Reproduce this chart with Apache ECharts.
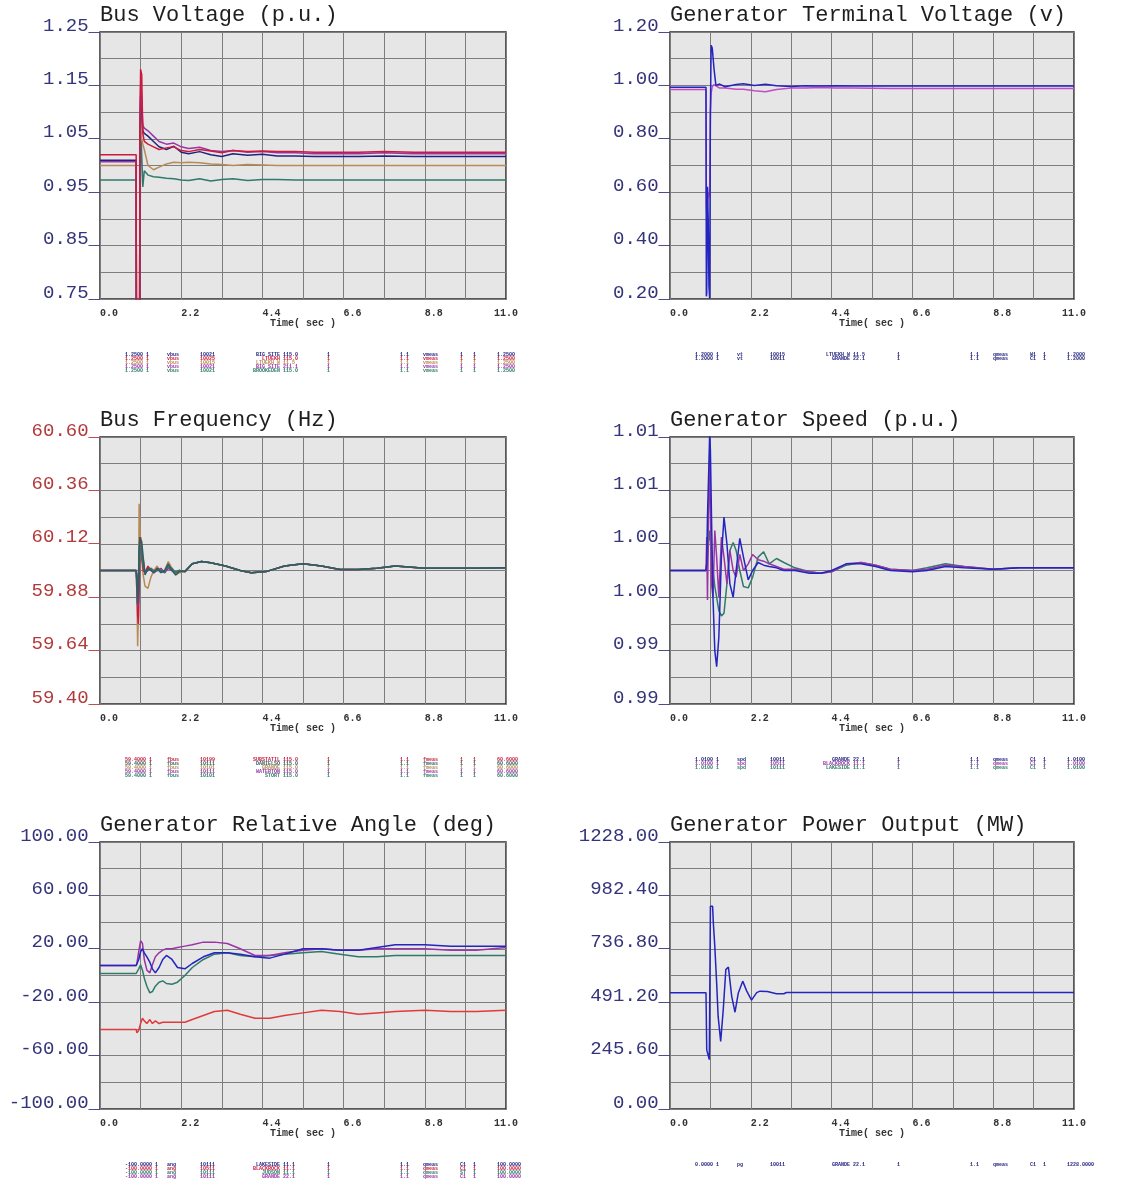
<!DOCTYPE html>
<html>
<head>
<meta charset="utf-8">
<script src="https://cdn.jsdelivr.net/npm/echarts@6/dist/echarts.min.js"></script>
<style>html,body{margin:0;padding:0;background:#fff;}#c{width:1132px;height:1195px;}</style>
</head>
<body>
<div id="c"></div>
<script>
// ---------- shared x axis ----------
const xTickValues = [0, 2.2, 4.4, 6.6, 8.8, 11];
const xTickLabels = ['0.0', '2.2', '4.4', '6.6', '8.8', '11.0'];

// ---------- Panel 1: Bus Voltage (p.u.) ----------
const bvT      = [0, 0.98, 0.99, 1.07, 1.08, 1.1, 1.13, 1.16, 1.2, 1.3, 1.45, 1.6, 1.8, 2.0, 2.2, 2.4, 2.7, 3.0, 3.3, 3.6, 4.0, 4.4, 4.8, 5.3, 5.8, 6.4, 7.0, 7.7, 8.5, 9.5, 11.0];
const bvNavy   = [1.010, 1.010, 0.5, 0.5, 1.05, 1.13, 1.10, 1.065, 1.06, 1.055, 1.045, 1.035, 1.03, 1.036, 1.025, 1.022, 1.026, 1.02, 1.017, 1.022, 1.019, 1.021, 1.018, 1.018, 1.017, 1.017, 1.017, 1.018, 1.017, 1.017, 1.017];
const bvRed    = [1.020, 1.020, 0.5, 0.5, 1.06, 1.18, 1.17, 1.06, 1.045, 1.04, 1.035, 1.03, 1.033, 1.035, 1.028, 1.026, 1.03, 1.027, 1.024, 1.028, 1.026, 1.027, 1.026, 1.026, 1.025, 1.025, 1.025, 1.026, 1.025, 1.025, 1.025];
const bvTan    = [1.000, 1.000, 0.5, 0.5, 0.98, 1.12, 1.05, 1.04, 1.03, 1.0, 0.992, 0.997, 1.003, 1.006, 1.005, 1.006, 1.005, 1.003, 1.002, 1.0, 1.002, 1.001, 1.0, 1.0, 1.0, 1.0, 1.0, 1.0, 1.0, 1.0, 1.0];
const bvPurple = [1.007, 1.007, 0.5, 0.5, 1.04, 1.15, 1.12, 1.075, 1.07, 1.065, 1.055, 1.045, 1.04, 1.042, 1.035, 1.032, 1.034, 1.028, 1.026, 1.028, 1.025, 1.026, 1.024, 1.024, 1.022, 1.022, 1.022, 1.024, 1.022, 1.022, 1.022];
const bvTeal   = [0.973, 0.973, 0.5, 0.5, 0.7, 1.10, 1.02, 0.96, 0.99, 0.982, 0.979, 0.978, 0.976, 0.975, 0.973, 0.972, 0.975, 0.971, 0.974, 0.975, 0.972, 0.974, 0.974, 0.973, 0.973, 0.973, 0.973, 0.973, 0.973, 0.973, 0.973];
const bvYTicks  = [0.75, 0.85, 0.95, 1.05, 1.15, 1.25];
const bvYLabels = ['0.75', '0.85', '0.95', '1.05', '1.15', '1.25'];

// ---------- Panel 2: Generator Terminal Voltage (v) ----------
const gtT       = [0, 0.98, 0.99, 1.0, 1.02, 1.04, 1.06, 1.08, 1.1, 1.12, 1.15, 1.2, 1.25, 1.35, 1.5, 1.8, 2.0, 2.3, 2.6, 2.9, 3.3, 3.7, 4.1, 4.5, 5.0, 6.0, 8.0, 11.0];
const gtNavy    = [0.993, 0.993, 0.21, 0.22, 0.62, 0.50, 0.25, 0.20, 0.90, 1.15, 1.14, 1.06, 1.0, 1.005, 0.995, 1.003, 1.006, 1.0, 1.004, 0.999, 0.996, 0.999, 0.998, 0.999, 0.998, 0.998, 0.998, 0.998];
const gtMagenta = [0.985, 0.985, 0.55, 0.52, 0.55, 0.60, 0.58, 0.62, 0.90, 0.97, 0.995, 1.003, 0.998, 0.99, 0.99, 0.986, 0.986, 0.98, 0.976, 0.985, 0.99, 0.99, 0.992, 0.99, 0.99, 0.988, 0.988, 0.988];
const gtYTicks  = [0.2, 0.4, 0.6, 0.8, 1.0, 1.2];
const gtYLabels = ['0.20', '0.40', '0.60', '0.80', '1.00', '1.20'];

// ---------- Panel 3: Bus Frequency (Hz) ----------
const bfT      = [0, 0.98, 1.0, 1.02, 1.04, 1.06, 1.08, 1.1, 1.13, 1.17, 1.22, 1.3, 1.38, 1.46, 1.55, 1.65, 1.75, 1.85, 1.95, 2.05, 2.15, 2.3, 2.5, 2.75, 3.0, 3.4, 3.8, 4.1, 4.5, 5.0, 5.5, 6.0, 6.5, 7.0, 7.5, 8.0, 8.8, 9.5, 10.2, 11.0];
const bfRed    = [60.0, 60.0, 59.95, 59.80, 59.76, 59.90, 60.10, 60.15, 60.08, 60.0, 59.99, 60.02, 60.0, 59.99, 60.01, 60.0, 59.99, 60.02, 60.0, 59.99, 60.0, 59.995, 60.03, 60.04, 60.035, 60.02, 60.0, 59.99, 59.995, 60.02, 60.03, 60.02, 60.005, 60.005, 60.01, 60.02, 60.01, 60.01, 60.01, 60.012];
const bfNavy   = [60.0, 60.0, 59.95, 59.85, 59.90, 60.10, 60.15, 60.14, 60.13, 60.06, 59.98, 60.01, 60.0, 59.99, 60.01, 59.99, 60.0, 60.03, 60.0, 59.98, 59.995, 59.995, 60.03, 60.04, 60.035, 60.02, 60.0, 59.99, 59.995, 60.02, 60.03, 60.02, 60.005, 60.005, 60.01, 60.02, 60.01, 60.01, 60.01, 60.012];
const bfTan    = [60.0, 60.0, 59.90, 59.66, 59.80, 60.30, 60.20, 60.10, 60.05, 59.98, 59.93, 59.92, 59.97, 60.0, 60.02, 59.99, 60.0, 60.04, 60.01, 59.98, 59.99, 59.995, 60.03, 60.04, 60.035, 60.02, 60.0, 59.99, 59.995, 60.02, 60.03, 60.02, 60.005, 60.005, 60.01, 60.02, 60.01, 60.01, 60.01, 60.012];
const bfPurple = [60.0, 60.0, 59.90, 59.84, 59.86, 60.05, 60.12, 60.10, 60.10, 60.05, 59.99, 60.0, 60.01, 59.99, 60.0, 60.01, 59.99, 60.01, 60.0, 59.99, 60.0, 59.995, 60.03, 60.04, 60.035, 60.02, 60.0, 59.99, 59.995, 60.02, 60.03, 60.02, 60.005, 60.005, 60.01, 60.02, 60.01, 60.01, 60.01, 60.012];
const bfTeal   = [60.0, 60.0, 59.98, 59.90, 59.95, 60.08, 60.12, 60.10, 60.06, 60.02, 59.99, 60.0, 60.01, 60.0, 60.0, 60.0, 59.99, 60.02, 60.01, 59.99, 60.0, 59.995, 60.03, 60.04, 60.035, 60.02, 60.0, 59.99, 59.995, 60.02, 60.03, 60.02, 60.005, 60.005, 60.01, 60.02, 60.01, 60.01, 60.01, 60.012];
const bfYTicks  = [59.4, 59.64, 59.88, 60.12, 60.36, 60.6];
const bfYLabels = ['59.40', '59.64', '59.88', '60.12', '60.36', '60.60'];

// ---------- Panel 4: Generator Speed (p.u.) ----------
const gsT      = [0, 0.98, 1.0, 1.02, 1.05, 1.08, 1.1, 1.13, 1.17, 1.22, 1.27, 1.33, 1.4, 1.47, 1.55, 1.63, 1.72, 1.8, 1.9, 2.0, 2.13, 2.25, 2.4, 2.55, 2.7, 2.9, 3.1, 3.4, 3.8, 4.1, 4.4, 4.8, 5.2, 5.6, 6.0, 6.6, 7.0, 7.5, 8.0, 8.8, 9.5, 11.0];
const gsBlue   = [1.0, 1.0, 1.0005, 1.004, 1.007, 1.0102, 1.009, 1.004, 0.998, 0.994, 0.9928, 0.995, 1.001, 1.004, 1.002, 0.999, 0.998, 1.0, 1.0024, 1.001, 0.9993, 1.0, 1.0006, 1.0004, 1.0003, 1.0002, 1.0, 1.0, 0.9998, 0.9998, 1.0, 1.0005, 1.0005, 1.0003, 1.0, 0.9999, 1.0, 1.0003, 1.0002, 1.0001, 1.0002, 1.0002];
const gsPurple = [1.0, 1.0, 1.0025, 0.9978, 1.004, 1.0083, 1.005, 0.999, 0.998, 1.003, 1.001, 0.998, 1.0025, 1.001, 0.999, 1.0015, 1.0, 0.9995, 1.0012, 1.0, 1.0005, 1.0012, 1.0008, 1.0007, 1.0005, 1.0003, 1.0001, 1.0001, 0.9999, 0.9998, 0.9999, 1.0005, 1.0006, 1.0004, 1.0001, 1.0, 1.0001, 1.0004, 1.0003, 1.0001, 1.0002, 1.0002];
const gsTeal   = [1.0, 1.0, 1.0, 1.001, 1.002, 1.003, 1.003, 1.0015, 1.0, 0.9988, 0.998, 0.997, 0.9966, 0.9968, 0.999, 1.0015, 1.0021, 1.0015, 1.0, 0.9988, 0.9987, 0.9995, 1.001, 1.0014, 1.0005, 1.0009, 1.0006, 1.0002, 0.9999, 0.9998, 0.9999, 1.0004, 1.0006, 1.0004, 1.0001, 1.0, 1.0002, 1.0005, 1.0003, 1.0001, 1.0002, 1.0002];
const gsYTicks  = [0.99, 0.994, 0.998, 1.002, 1.006, 1.01];
const gsYLabels = ['0.99', '0.99', '1.00', '1.00', '1.01', '1.01'];

// ---------- Panel 5: Generator Relative Angle (deg) ----------
const raT      = [0, 0.98, 1.0, 1.05, 1.1, 1.15, 1.2, 1.27, 1.35, 1.42, 1.5, 1.6, 1.7, 1.8, 1.95, 2.1, 2.3, 2.5, 2.8, 3.1, 3.45, 3.8, 4.2, 4.6, 5.0, 5.5, 6.0, 6.5, 7.0, 7.5, 8.0, 8.8, 9.5, 10.2, 11.0];
const raNavy   = [7.5, 7.5, 8, 12, 18, 20, 17, 14, 10, 5, 2, 6, 12, 15, 12, 6, 5, 9, 14, 17, 17, 16, 14, 13, 16, 20, 20, 19, 19, 21, 23, 23, 22, 22, 22];
const raRed    = [-40.5, -40.5, -43, -41, -36, -32, -34, -36, -33, -36, -34, -36, -35, -35, -35, -35, -35, -33, -30, -27, -26, -29, -32, -32, -30, -28, -26, -27, -29, -28, -27, -26, -27, -27, -26];
const raTeal   = [1.5, 1.5, 2, 5, 8, 4, -2, -8, -13, -12, -8, -5, -4, -6, -6.5, -5, 0, 6, 12, 16, 17, 15, 14, 15, 16, 17, 18, 16, 14, 14, 15, 15, 15, 15, 15];
const raPurple = [7.5, 7.5, 9, 18, 26, 24, 12, 4, 2, 8, 14, 17, 19, 20, 20, 21, 22, 23, 25, 25, 24, 20, 15, 15, 17, 19, 20, 19, 19, 20, 20, 20, 19, 19, 21];
const raYTicks  = [-100, -60, -20, 20, 60, 100];
const raYLabels = ['-100.00', '-60.00', '-20.00', '20.00', '60.00', '100.00'];

// ---------- Panel 6: Generator Power Output (MW) ----------
const poT    = [0, 0.98, 1.0, 1.04, 1.07, 1.1, 1.16, 1.18, 1.22, 1.27, 1.31, 1.38, 1.45, 1.52, 1.59, 1.68, 1.77, 1.86, 1.98, 2.09, 2.22, 2.36, 2.45, 2.65, 2.9, 3.1, 3.17, 6.0, 11.0];
const poNavy = [535, 535, 272, 265, 227, 932, 932, 855, 748, 580, 427, 311, 457, 641, 653, 518, 445, 534, 588, 542, 501, 535, 542, 540, 530, 530, 536, 536, 536];
const poYTicks  = [0, 245.6, 491.2, 736.8, 982.4, 1228];
const poYLabels = ['0.00', '245.60', '491.20', '736.80', '982.40', '1228.00'];

// ---------- legend tables (channel listings) ----------
const legBusVolt = [
  ['1.2500 1', 'vbus', '10021', 'BIG SITE', '115.0', '1', '1.1', 'vmeas', '1', '1', '1.2500'],
  ['1.2500 1', 'vbus', '10025', 'LTUEKH', '115.0', '1', '1.1', 'vmeas', '1', '1', '1.2500'],
  ['1.2500 1', 'vbus', '10015', 'LTUEKH W', '11.5', '1', '1.1', 'vmeas', '1', '1', '1.2500'],
  ['1.2500 1', 'vbus', '10021', 'BIG SITE', '211.1', '1', '1.1', 'vmeas', '1', '1', '1.2500'],
  ['1.2500 1', 'vbus', '10021', 'BROOKEDEN', '115.0', '1', '1.1', 'vmeas', '1', '1', '1.2500']
];
const legTermVolt = [
  ['1.2000 1', 'vt', '10015', 'LTUEKH W', '11.5', '1', '1.1', 'qmeas', 'W1', '1', '1.2000'],
  ['1.2000 1', 'vt', '10011', 'GRANDE', '22.1', '1', '1.1', 'qmeas', 'C1', '1', '1.2000']
];
const legFreq = [
  ['59.4000 1', 'fbus', '10199', 'SUBSTATIL', '115.0', '1', '1.1', 'fmeas', '1', '1', '60.6000'],
  ['59.4000 1', 'fbus', '10111', 'DANIELSO', '115.0', '1', '1.1', 'fmeas', '1', '1', '60.6000'],
  ['59.4000 1', 'fbus', '10101', 'GRANDE', '115.0', '1', '1.1', 'fmeas', '1', '1', '60.6000'],
  ['59.4000 1', 'fbus', '10111', 'WATERTON', '115.0', '1', '1.1', 'fmeas', '1', '1', '60.6000'],
  ['59.4000 1', 'fbus', '10101', 'STORT', '115.0', '1', '1.1', 'fmeas', '1', '1', '60.6000']
];
const legSpeed = [
  ['1.0100 1', 'spd', '10011', 'GRANDE', '22.1', '1', '1.1', 'qmeas', 'C1', '1', '1.0100'],
  ['1.0100 1', 'spd', '10511', 'BLACKROCK', '11.1', '1', '1.1', 'qmeas', 'C1', '1', '1.0100'],
  ['1.0100 1', 'spd', '10111', 'LAKESIDE', '11.1', '1', '1.1', 'qmeas', 'C1', '1', '1.0100']
];
const legAngle = [
  ['-100.0000 1', 'ang', '10111', 'LAKESIDE', '11.1', '1', '1.1', 'qmeas', 'C1', '1', '100.0000'],
  ['-100.0000 1', 'ang', '10511', 'BLACKROCK', '11.1', '1', '1.1', 'qmeas', 'C1', '1', '100.0000'],
  ['-100.0000 1', 'ang', '10111', 'JUDSON', '11.1', '1', '1.1', 'qmeas', 'ST', '1', '100.0000'],
  ['-100.0000 1', 'ang', '10111', 'GRANDE', '22.1', '1', '1.1', 'qmeas', 'C1', '1', '100.0000']
];
const legPower = [
  ['0.0000 1', 'pg', '10011', 'GRANDE', '22.1', '1', '1.1', 'qmeas', 'C1', '1', '1228.0000']
];

// ---------- colours ----------
const C = {
  navy: '#23237f', red: '#cc1a3c', tan: '#b88a55', purple: '#9a35a5', teal: '#2f7a6a',
  blue: '#2424c0', magenta: '#c24cc4', darkteal: '#2f5f5f', redA: '#e03a3a'
};

const panels = [
  { title: 'Bus Voltage (p.u.)', left: 100, top: 32, width: 406, min: 0.75, max: 1.25, interval: 0.05,
    ticks: bvYTicks, labels: bvYLabels, labelColor: '#34347a', t: bvT,
    series: [[bvTeal, C.teal], [bvTan, C.tan], [bvNavy, C.navy], [bvPurple, C.purple], [bvRed, C.red]],
    legend: legBusVolt, legColors: [C.navy, C.red, C.tan, C.purple, C.teal], legY: 355 },
  { title: 'Generator Terminal Voltage (v)', left: 670, top: 32, width: 404, min: 0.2, max: 1.2, interval: 0.1,
    ticks: gtYTicks, labels: gtYLabels, labelColor: '#34347a', t: gtT,
    series: [[gtMagenta, C.magenta], [gtNavy, C.blue]],
    legend: legTermVolt, legColors: [C.navy, C.navy], legY: 355 },
  { title: 'Bus Frequency (Hz)', left: 100, top: 437, width: 406, min: 59.4, max: 60.6, interval: 0.12,
    ticks: bfYTicks, labels: bfYLabels, labelColor: '#b23a3a', t: bfT,
    series: [[bfTan, C.tan], [bfRed, C.red], [bfPurple, C.purple], [bfTeal, C.teal], [bfNavy, C.darkteal]],
    legend: legFreq, legColors: [C.red, C.darkteal, C.tan, C.purple, C.teal], legY: 760 },
  { title: 'Generator Speed (p.u.)', left: 670, top: 437, width: 404, min: 0.99, max: 1.01, interval: 0.002,
    ticks: gsYTicks, labels: gsYLabels, labelColor: '#34347a', t: gsT,
    series: [[gsTeal, C.teal], [gsPurple, C.purple], [gsBlue, C.blue]],
    legend: legSpeed, legColors: [C.navy, C.purple, C.teal], legY: 760 },
  { title: 'Generator Relative Angle (deg)', left: 100, top: 842, width: 406, min: -100, max: 100, interval: 20,
    ticks: raYTicks, labels: raYLabels, labelColor: '#34347a', t: raT,
    series: [[raRed, C.redA], [raTeal, C.teal], [raPurple, C.purple], [raNavy, C.blue]],
    legend: legAngle, legColors: [C.navy, C.red, C.teal, C.purple], legY: 1165 },
  { title: 'Generator Power Output (MW)', left: 670, top: 842, width: 404, min: 0, max: 1228, interval: 122.8,
    ticks: poYTicks, labels: poYLabels, labelColor: '#34347a', t: poT,
    series: [[poNavy, C.blue]],
    legend: legPower, legColors: [C.navy], legY: 1165 }
];

const legColX = [25, 67, 100, 180, 183, 227, 300, 323, 360, 373, 397];

const option = { animation: false, backgroundColor: '#ffffff',
  title: [], grid: [], xAxis: [], yAxis: [], series: [], graphic: [] };

panels.forEach((p, gi) => {
  option.title.push({ text: p.title, left: p.left, top: p.top - 28, padding: 0,
    textStyle: { fontFamily: 'Liberation Mono', fontSize: 22, fontWeight: 'normal', color: '#1e1e1e' } });
  option.grid.push({ left: p.left, top: p.top, width: p.width, height: 267, show: true,
    backgroundColor: '#e6e6e6', borderColor: '#2a2a2a', borderWidth: 1.5, containLabel: false });
  option.xAxis.push({ gridIndex: gi, type: 'value', min: 0, max: 11, interval: 1.1,
    axisLine: { show: false }, axisTick: { show: false },
    splitLine: { show: true, lineStyle: { color: '#7d7d7d', width: 1 } },
    axisLabel: { customValues: xTickValues, align: 'left', margin: 9, alignMaxLabel: 'center',
      formatter: v => { const i = xTickValues.findIndex(x => Math.abs(x - v) < 1e-6); return i >= 0 ? xTickLabels[i] : ''; },
      fontFamily: 'Liberation Mono', fontWeight: 'bold', fontSize: 10, color: '#333' },
    name: 'Time( sec )', nameLocation: 'middle', nameGap: 18,
    nameTextStyle: { fontFamily: 'Liberation Mono', fontWeight: 'bold', fontSize: 10, color: '#333' } });
  const tol = (p.max - p.min) * 1e-6;
  option.yAxis.push({ gridIndex: gi, type: 'value', min: p.min, max: p.max, interval: p.interval,
    axisLine: { show: false }, axisTick: { show: false },
    splitLine: { show: true, lineStyle: { color: '#7d7d7d', width: 1 } },
    axisLabel: { customValues: p.ticks, margin: 0, verticalAlign: 'bottom', lineHeight: 13,
      formatter: v => { const i = p.ticks.findIndex(x => Math.abs(x - v) < tol); return i >= 0 ? p.labels[i] + '_' : ''; },
      fontFamily: 'Liberation Mono', fontSize: 19, color: p.labelColor } });
  p.series.forEach(([vals, col]) => {
    option.series.push({ type: 'line', xAxisIndex: gi, yAxisIndex: gi, symbol: 'none', clip: true,
      lineStyle: { color: col, width: 1.5 }, itemStyle: { color: col },
      data: p.t.map((t, i) => [t, vals[i]]) });
  });
  const baseX = p.left;
  p.legend.forEach((row, r) => {
    row.forEach((txt, c) => {
      option.graphic.push({ type: 'text', x: baseX + legColX[c], y: p.legY + r * 4, silent: true,
        style: { text: txt, fill: p.legColors[r], font: 'bold 5px "Liberation Mono"',
          align: c === 3 ? 'right' : 'left', textAlign: c === 3 ? 'right' : 'left', verticalAlign: 'middle' } });
    });
  });
});

const chart = echarts.init(document.getElementById('c'));
chart.setOption(option);
</script>
</body>
</html>
